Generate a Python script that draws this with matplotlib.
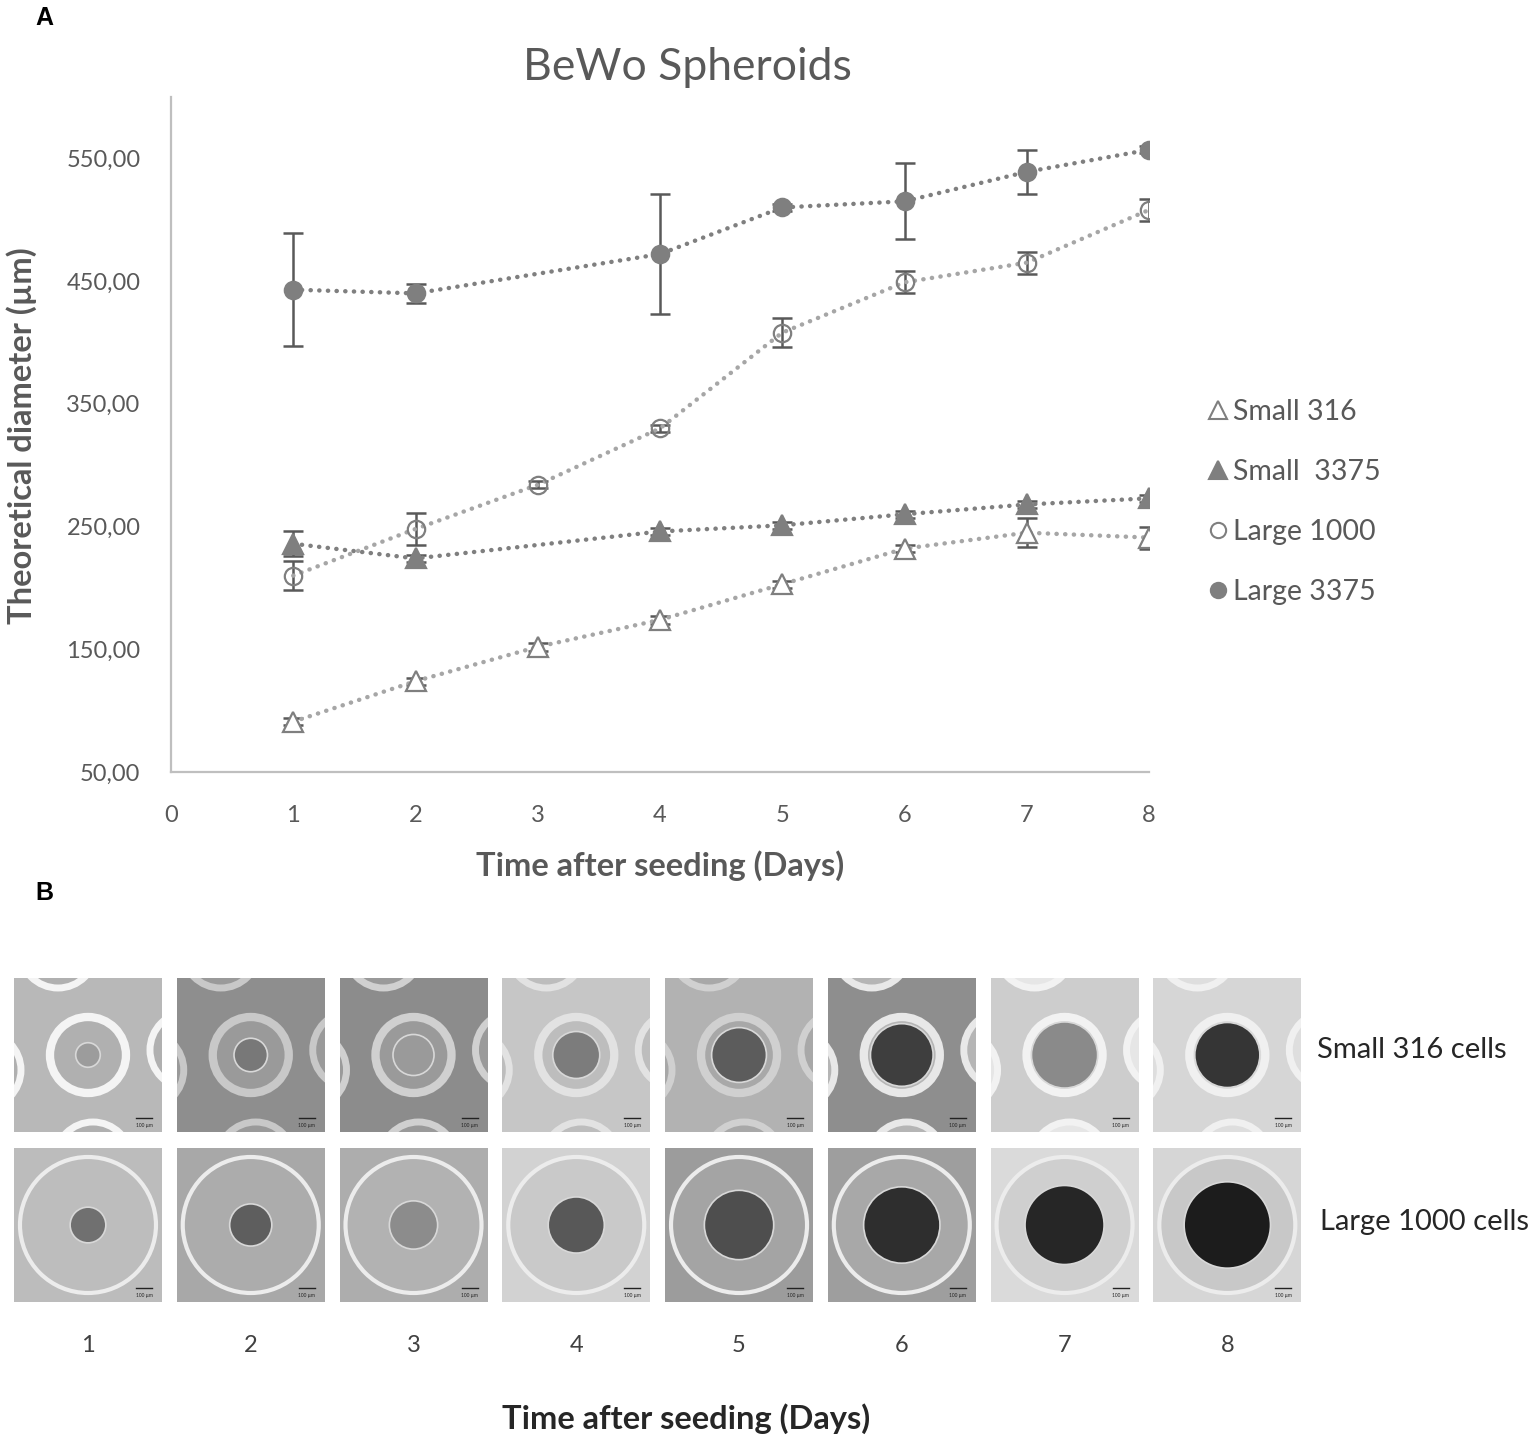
import matplotlib
matplotlib.use("Agg")
import matplotlib.pyplot as plt
from matplotlib.lines import Line2D
from matplotlib.patches import Rectangle, Ellipse
from matplotlib.ticker import FuncFormatter

plt.rcParams['font.family'] = ['Lato', 'DejaVu Sans']

# ---------------- data ----------------
days_all = [1, 2, 3, 4, 5, 6, 7, 8]
days_no3 = [1, 2, 4, 5, 6, 7, 8]

small316_days = days_all
small316_vals = [91, 124, 152, 174, 203, 232, 245, 241]
small316_err = [3, 3, 3, 3, 3, 3, 12, 9]

small3375_days = days_no3
small3375_vals = [236, 224, 246, 251, 260, 268, 273]
small3375_err = [10, 3, 3, 3, 3, 3, 3]

large1000_days = days_all
large1000_vals = [210, 248, 284, 330, 408, 449, 465, 508]
large1000_err = [12, 13, 3, 3, 12, 9, 9, 9]

large3375_days = days_no3
large3375_vals = [443, 440, 472, 510, 515, 539, 557]
large3375_err = [46, 8, 49, 3, 31, 18, 3]

series_labels = ['Small 316', 'Small  3375', 'Large 1000', 'Large 3375']
y_ticks = [50, 150, 250, 350, 450, 550]
x_ticks = [0, 1, 2, 3, 4, 5, 6, 7, 8]
image_row_labels = ['Small 316 cells', 'Large 1000 cells']

W, H = 1535, 1443
fig = plt.figure(figsize=(W / 100, H / 100), dpi=100)
fig.patch.set_facecolor('white')

TXT = '#595959'
AX_C = '#bfbfbf'

# ---------------- Panel A ----------------
ax = fig.add_axes([171 / W, 1 - 772 / H, (1149 - 171) / W, (772 - 97) / H])
ax.set_xlim(0, 8)
ax.set_ylim(50, 600)
for s in ['top', 'right']:
    ax.spines[s].set_visible(False)
for s in ['left', 'bottom']:
    ax.spines[s].set_color(AX_C)
    ax.spines[s].set_linewidth(1.6)
ax.set_xticks(x_ticks)
ax.set_yticks(y_ticks)
ax.yaxis.set_major_formatter(FuncFormatter(lambda v, p: f"{v:.2f}".replace('.', ',')))
ax.tick_params(axis='both', length=0, labelsize=17, colors=TXT)
ax.tick_params(axis='y', pad=22)
ax.tick_params(axis='x', pad=24)

dot = (0, (0.05, 1.9))
specs = [
    (small316_days, small316_vals, small316_err, '^', 'white', '#7f7f7f', '#a6a6a6', 14),
    (small3375_days, small3375_vals, small3375_err, '^', '#7f7f7f', '#7f7f7f', '#7f7f7f', 14),
    (large1000_days, large1000_vals, large1000_err, 'o', 'none', '#7f7f7f', '#a6a6a6', 12.5),
    (large3375_days, large3375_vals, large3375_err, 'o', '#7f7f7f', '#7f7f7f', '#7f7f7f', 12.5),
]
for d, v, e, m, fc, ec, lc, ms in specs:
    ax.errorbar(d, v, yerr=e, fmt='none', ecolor='#595959', elinewidth=1.8,
                capsize=7, capthick=1.8, zorder=2)
    ax.plot(d, v, linestyle=dot, color=lc, linewidth=3.2, dash_capstyle='round',
            zorder=3)
    ax.plot(d, v, linestyle='none', marker=m, markersize=ms, markerfacecolor=fc,
            markeredgecolor=ec, markeredgewidth=1.6, zorder=4)

handles = []
for (d, v, e, m, fc, ec, lc, ms), lab in zip(specs, series_labels):
    handles.append(Line2D([], [], linestyle='none', marker=m, markersize=ms - 1.5,
                          markerfacecolor=('white' if fc == 'none' else fc),
                          markeredgecolor=ec, markeredgewidth=1.5, label=lab))
leg = fig.legend(handles=handles, loc='center left',
                 bbox_to_anchor=(1195 / W, 1 - 502 / H), frameon=False,
                 fontsize=20.5, labelcolor=TXT, handlelength=0.6, handletextpad=0.25,
                 labelspacing=1.2, borderpad=0)

fig.text(687 / W, 1 - 68 / H, 'BeWo Spheroids', ha='center', va='center',
         fontsize=32, color=TXT)
fig.text(660 / W, 1 - 866 / H, 'Time after seeding (Days)', ha='center',
         va='center', fontsize=23.5, fontweight='bold', color=TXT)
fig.text(22 / W, 1 - 436 / H, 'Theoretical diameter (µm)', ha='center',
         va='center', rotation=90, fontsize=23.5, fontweight='bold', color=TXT)

fig.text(44 / W, 1 - 18 / H, 'A', ha='center', va='center', fontsize=18,
         fontweight='bold', color='black', family=['Liberation Sans', 'DejaVu Sans'])
fig.text(44 / W, 1 - 893 / H, 'B', ha='center', va='center', fontsize=18,
         fontweight='bold', color='black', family=['Liberation Sans', 'DejaVu Sans'])

# ---------------- Panel B (schematic micrographs) ----------------
bx0, bx1 = 6.6, 1308.7
by0, by1 = 970, 1310
axB = fig.add_axes([bx0 / W, 1 - by1 / H, (bx1 - bx0) / W, (by1 - by0) / H])
axB.set_xlim(0.5, 8.5)
axB.set_ylim(2.5, 0.5)
axB.axis('off')
sx = 8.0 / (bx1 - bx0)   # data units per pixel in x
sy = 2.0 / (by1 - by0)   # data units per pixel in y

small_bg = ['#b8b8b8', '#8e8e8e', '#8c8c8c', '#c6c6c6', '#b2b2b2', '#8e8e8e', '#cdcdcd', '#d6d6d6']
small_well = ['#b0b0b0', '#9a9a9a', '#9a9a9a', '#bdbdbd', '#a8a8a8', '#b5b5b5', '#e6e6e6', '#dedede']
small_ring = ['#f4f4f4', '#c8c8c8', '#d0d0d0', '#e2e2e2', '#d0d0d0', '#e8e8e8', '#f2f2f2', '#f0f0f0']
small_sph = ['#9c9c9c', '#787878', '#9a9a9a', '#7c7c7c', '#5c5c5c', '#3e3e3e', '#8a8a8a', '#353535']
large_bg = ['#bcbcbc', '#a8a8a8', '#adadad', '#d2d2d2', '#9c9c9c', '#9e9e9e', '#dadada', '#d6d6d6']
large_well = ['#bdbdbd', '#acacac', '#b2b2b2', '#c9c9c9', '#a4a4a4', '#a8a8a8', '#cfcfcf', '#c8c8c8']
large_sph = ['#707070', '#5e5e5e', '#8c8c8c', '#585858', '#4e4e4e', '#2e2e2e', '#262626', '#1c1c1c']

img_w, img_h = 148, 154
row_specs = [
    (1, small316_vals, 0.27, 76, small_bg, small_well, small_ring, small_sph, True),
    (2, large1000_vals, 0.17, 136, large_bg, large_well, ['#ececec'] * 8, large_sph, False),
]
for r, vals, k, well_d, bgs, wells, rings, sphs, neighbours in row_specs:
    for i, d in enumerate(days_all):
        rect = Rectangle((d - img_w * sx / 2, r - img_h * sy / 2), img_w * sx,
                         img_h * sy, facecolor=bgs[i], edgecolor='none', zorder=1)
        axB.add_patch(rect)
        if neighbours:
            for ox, oy in [(-30, -105), (100, -5), (5, 105), (-105, 15)]:
                nb = Ellipse((d + ox * sx, r + oy * sy), well_d * sx, well_d * sy,
                             facecolor=wells[i], edgecolor=rings[i], linewidth=5,
                             zorder=2)
                axB.add_patch(nb)
                nb.set_clip_path(rect)
        well = Ellipse((d, r), well_d * sx, well_d * sy, facecolor=wells[i],
                       edgecolor=rings[i], linewidth=6 if r == 1 else 3, zorder=3)
        axB.add_patch(well)
        well.set_clip_path(rect)
        sd = vals[i] * k
        sph = Ellipse((d, r), sd * sx, sd * sy, facecolor=sphs[i],
                      edgecolor='#d8d8d8', linewidth=1.2, zorder=4)
        axB.add_patch(sph)
        # scale bar
        axB.plot([d + 48 * sx, d + 64 * sx], [r + 63 * sy, r + 63 * sy],
                 color='#222222', linewidth=1, zorder=5)
        axB.text(d + 56 * sx, r + 70 * sy, '100 µm', fontsize=3.5, color='#222222',
                 ha='center', va='center', zorder=5)

for d in days_all:
    axB.text(d, 2.5 + 35 * sy, str(d), ha='center', va='center', fontsize=17,
             color='#404040', clip_on=False)

fig.text(1412 / W, 1 - 1050 / H, image_row_labels[0], ha='center', va='center',
         fontsize=21, color='#262626')
fig.text(1425 / W, 1 - 1222 / H, image_row_labels[1], ha='center', va='center',
         fontsize=21, color='#262626')
fig.text(686 / W, 1 - 1419 / H, 'Time after seeding (Days)', ha='center',
         va='center', fontsize=23.5, fontweight='bold', color='#262626')

fig.savefig('out.png', dpi=100, facecolor='white')
